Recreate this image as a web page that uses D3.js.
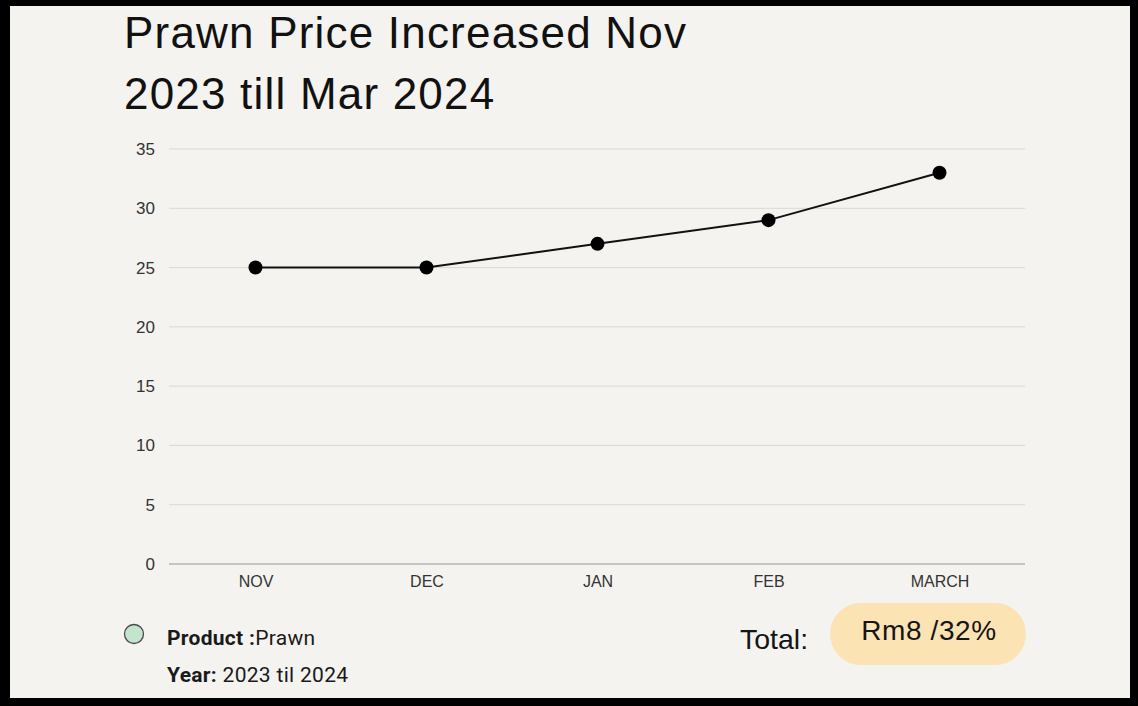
<!DOCTYPE html>
<html>
<head>
<meta charset="utf-8">
<script src="https://cdn.jsdelivr.net/npm/d3@7"></script>
<style>
  html, body { margin: 0; padding: 0; background: #000; }
  svg { display: block; }
</style>
</head>
<body>
<svg id="chart" width="1138" height="706"></svg>
<script>
// data
var months = ["NOV", "DEC", "JAN", "FEB", "MARCH"];
var prices = [25, 25, 27, 29, 33];
var yTicks = [0, 5, 10, 15, 20, 25, 30, 35];
var titleLines = ["Prawn Price Increased Nov", "2023 till Mar 2024"];

var svg = d3.select("#chart");

// black frame + paper
svg.append("rect").attr("width", 1138).attr("height", 706).attr("fill", "#000");
svg.append("rect")
  .attr("x", 10).attr("y", 6)
  .attr("width", 1120).attr("height", 692)
  .attr("fill", "#f4f3ef");

// title
svg.append("g").selectAll("text")
  .data(titleLines)
  .enter().append("text")
  .attr("x", 124)
  .attr("y", function (d, i) { return 48 + i * 61; })
  .style("font-family", "'Liberation Sans', Arial, sans-serif")
  .style("font-size", "44px")
  .style("letter-spacing", "1.2px")
  .style("fill", "#111")
  .text(function (d) { return d; });

// scales
var x = d3.scalePoint().domain(months).range([170, 1025]).padding(0.5);
var y = d3.scaleLinear().domain([0, 35]).range([564, 149]);

// gridlines
svg.append("g").selectAll("line")
  .data(yTicks)
  .enter().append("line")
  .attr("x1", 169).attr("x2", 1025)
  .attr("y1", function (d) { return y(d); })
  .attr("y2", function (d) { return y(d); })
  .style("stroke", function (d) { return d === 0 ? "#b9b6b1" : "#dcd8d1"; })
  .style("stroke-width", function (d) { return d === 0 ? 1.5 : 1; });

// y axis labels
var yAxis = svg.append("g")
  .attr("transform", "translate(155,0)")
  .call(d3.axisLeft(y).tickValues(yTicks).tickSize(0).tickPadding(0));
yAxis.select(".domain").remove();
yAxis.selectAll("text")
  .style("font-family", "'Liberation Sans', Arial, sans-serif")
  .style("font-size", "17px")
  .style("fill", "#333");

// x axis labels
var xAxis = svg.append("g")
  .attr("transform", "translate(0,576)")
  .call(d3.axisBottom(x).tickSize(0).tickPadding(0));
xAxis.select(".domain").remove();
xAxis.selectAll("text")
  .style("font-family", "'Liberation Sans', Arial, sans-serif")
  .style("font-size", "16px")
  .style("fill", "#333");

// line + points
var data = months.map(function (m, i) { return { month: m, value: prices[i] }; });
var line = d3.line()
  .x(function (d) { return x(d.month); })
  .y(function (d) { return y(d.value); });

svg.append("path")
  .datum(data)
  .attr("d", line)
  .style("fill", "none")
  .style("stroke", "#111")
  .style("stroke-width", 2);

svg.append("g").selectAll("circle")
  .data(data)
  .enter().append("circle")
  .attr("cx", function (d) { return x(d.month); })
  .attr("cy", function (d) { return y(d.value); })
  .attr("r", 7)
  .style("fill", "#000");

// legend
svg.append("circle")
  .attr("cx", 134).attr("cy", 634).attr("r", 9.5)
  .style("fill", "#c3e5cd")
  .style("stroke", "#4a4a4a")
  .style("stroke-width", 1.3);

var leg = svg.append("g")
  .style("font-family", "Roboto, 'Noto Sans', sans-serif")
  .style("font-size", "21px")
  .style("letter-spacing", "0.3px")
  .style("fill", "#1a1a1a");

var t1 = leg.append("text").attr("x", 167).attr("y", 645);
t1.append("tspan").style("font-weight", "bold").text("Product :");
t1.append("tspan").text("Prawn");

var t2 = leg.append("text").attr("x", 167).attr("y", 682);
t2.append("tspan").style("font-weight", "bold").text("Year: ");
t2.append("tspan").text("2023 til 2024");

// total pill
svg.append("text")
  .attr("x", 740).attr("y", 649)
  .style("font-family", "'Liberation Sans', Arial, sans-serif")
  .style("font-size", "28.5px")
  .style("fill", "#151515")
  .text("Total:");

svg.append("rect")
  .attr("x", 830).attr("y", 603)
  .attr("width", 196).attr("height", 62)
  .attr("rx", 31).attr("ry", 31)
  .style("fill", "#fbe3b3");

svg.append("text")
  .attr("x", 929).attr("y", 640)
  .attr("text-anchor", "middle")
  .style("font-family", "'Liberation Sans', Arial, sans-serif")
  .style("font-size", "28px")
  .style("letter-spacing", "0.6px")
  .style("fill", "#151515")
  .text("Rm8 /32%");
</script>
</body>
</html>
